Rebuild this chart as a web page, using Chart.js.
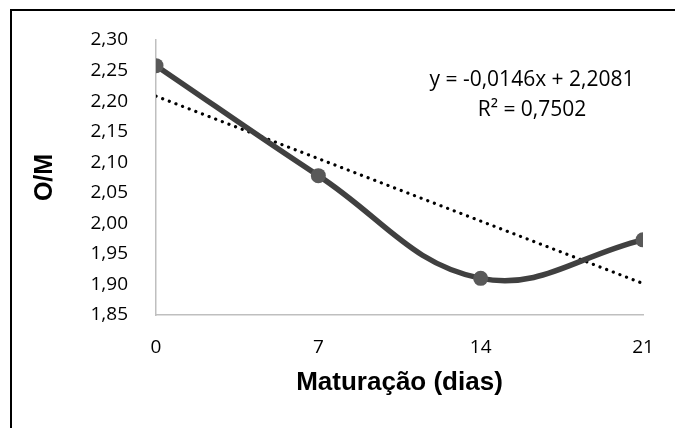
<!DOCTYPE html>
<html>
<head>
<meta charset="utf-8">
<script src="https://cdn.jsdelivr.net/npm/chart.js@4/dist/chart.umd.min.js"></script>
<style>
  html, body { margin: 0; padding: 0; background: #fff; overflow: hidden; }
  .chart-box { position: relative; width: 675px; height: 428px; }
  .frame {
    position: absolute; left: 10px; top: 9px; width: 700px; height: 500px;
    border: 2px solid #000; box-sizing: border-box;
  }
  canvas { position: absolute; left: 0; top: 0; }
</style>
</head>
<body>
<div class="chart-box">
  <div class="frame"></div>
  <canvas id="omChart" width="675" height="428"></canvas>
</div>
<script>
  // maturation days and O/M ratio
  const days = [0, 7, 14, 21];
  const omValues = [2.258, 2.078, 1.91, 1.973];

  // linear trendline from the chart's equation
  const trendSlope = -0.0146;
  const trendIntercept = 2.2081;
  const trendR2 = 0.7502;

  const yTicks = [1.85, 1.9, 1.95, 2.0, 2.05, 2.1, 2.15, 2.2, 2.25, 2.3];
  const xTicks = [0, 7, 14, 21];

  const fmt = (v, d) => v.toFixed(d).replace(".", ",");

  const points = days.map((d, i) => ({ x: d, y: omValues[i] }));
  const trendX = [days[0], days[days.length - 1]];
  const trendPoints = trendX.map((d) => ({ x: d, y: trendIntercept + trendSlope * d }));

  // draws the trendline equation and R² like Excel does
  const equationLabel = {
    id: "equationLabel",
    afterDatasetsDraw(chart) {
      const { ctx } = chart;
      ctx.save();
      ctx.fillStyle = "#000";
      ctx.font = "21px 'Open Sans'";
      ctx.textAlign = "center";
      ctx.textBaseline = "middle";
      const eq = "y = " + fmt(trendSlope, 4) + "x + " + fmt(trendIntercept, 4);
      ctx.fillText(eq, 532, 80);
      ctx.fillText("R² = " + fmt(trendR2, 4), 532, 110);
      ctx.restore();
    },
  };

  new Chart(document.getElementById("omChart").getContext("2d"), {
    type: "line",
    data: {
      datasets: [
        {
          data: points,
          borderColor: "#404040",
          borderWidth: 5.5,
          tension: 0.4,
          pointRadius: 7.5,
          pointBackgroundColor: "#595959",
          pointBorderColor: "#595959",
          pointBorderWidth: 0,
          order: 1,
        },
        {
          data: trendPoints,
          borderColor: "#000",
          borderWidth: 3.2,
          borderDash: [0.1, 7],
          borderCapStyle: "round",
          pointRadius: 0,
          tension: 0,
          order: 2,
        },
      ],
    },
    options: {
      responsive: false,
      animation: false,
      events: [],
      layout: { padding: { left: 26, right: 32, top: 40, bottom: 26 } },
      plugins: {
        legend: { display: false },
        tooltip: { enabled: false },
      },
      scales: {
        x: {
          type: "linear",
          min: 0,
          max: 21,
          afterFit: (scale) => { scale.height = 87; },
          afterBuildTicks: (scale) => { scale.ticks = xTicks.map((v) => ({ value: v })); },
          grid: { display: false },
          border: { color: "#bfbfbf", width: 1.5 },
          ticks: {
            padding: 13,
            color: "#000",
            font: { family: "Open Sans", size: 19 },
            maxRotation: 0,
          },
          title: {
            display: true,
            text: "Maturação (dias)",
            color: "#000",
            font: { family: "Liberation Sans", size: 26, weight: "bold" },
          },
        },
        y: {
          min: 1.85,
          max: 2.3,
          afterFit: (scale) => { scale.width = 130; },
          afterBuildTicks: (scale) => { scale.ticks = yTicks.map((v) => ({ value: v })); },
          grid: { display: false },
          border: { color: "#bfbfbf", width: 1.5 },
          ticks: {
            padding: 20,
            color: "#000",
            font: { family: "Open Sans", size: 19 },
            callback: (v) => fmt(v, 2),
          },
          title: {
            display: true,
            text: "O/M",
            color: "#000",
            font: { family: "Liberation Sans", size: 25, weight: "bold" },
          },
        },
      },
    },
    plugins: [equationLabel],
  });
</script>
</body>
</html>
